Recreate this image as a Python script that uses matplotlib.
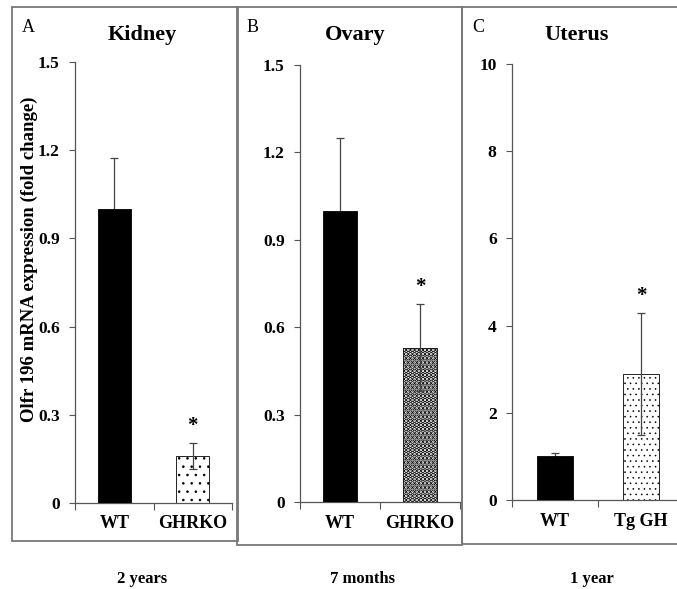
import matplotlib as mpl
import matplotlib.pyplot as plt
from matplotlib.patches import Rectangle

plt.rcParams['font.family'] = ['Liberation Serif', 'DejaVu Serif']

# panel data
tissues = ["Kidney", "Ovary", "Uterus"]
letters = ["A", "B", "C"]
ages = ["2 years", "7 months", "1 year"]
groups = [["WT", "GHRKO"], ["WT", "GHRKO"], ["WT", "Tg GH"]]
means = [[1.0, 0.16], [1.0, 0.53], [1.0, 2.9]]
errs = [[0.175, 0.045], [0.25, 0.15], [0.08, 1.4]]
ymax = [1.5, 1.5, 10]
yticks = [[0, 0.3, 0.6, 0.9, 1.2, 1.5], [0, 0.3, 0.6, 0.9, 1.2, 1.5], [0, 2, 4, 6, 8, 10]]
yticklabels = [["0", "0.3", "0.6", "0.9", "1.2", "1.5"],
               ["0", "0.3", "0.6", "0.9", "1.2", "1.5"],
               ["0", "2", "4", "6", "8", "10"]]
hatches = ["..", "....", "..."]
hatch_lw = [0.6, 2.4, 0.4]

W, H = 677, 589
fig = plt.figure(figsize=(W / 100, H / 100), dpi=100)

def fx(px):
    return px / W

def fy(py):
    return 1 - py / H

# axes in pixels: left, right, top(ymax), bottom(0)
boxes = [(75, 232, 62, 503), (300, 460, 65, 502), (512, 684, 64, 500)]
frames = [(12, 238, 7, 541), (237, 462, 7, 545), (462, 690, 7, 544)]
title_x = [142, 355, 577]
letter_x = [28, 253, 478]
age_x = [142, 362, 592]

edge = "#555555"
for i in range(3):
    l, r, t, b = boxes[i]
    ax = fig.add_axes([fx(l), fy(b), fx(r) - fx(l), fy(t) - fy(b)])
    x = [0.5, 1.5]
    ax.bar(x[0], means[i][0], width=0.42, color="black", edgecolor="black",
           linewidth=0.6, zorder=3)
    with mpl.rc_context({'hatch.linewidth': hatch_lw[i]}):
        ax.bar(x[1], means[i][1], width=0.42, color="white", edgecolor="black",
               linewidth=0.6, hatch=hatches[i], zorder=1)
    ax.errorbar(x, means[i], yerr=errs[i], fmt="none", ecolor="#444444",
                elinewidth=0.9, capsize=3, capthick=0.9, zorder=2)
    ax.annotate("*", xy=(x[1], means[i][1] + errs[i][1]), xytext=(0, 12),
                textcoords="offset points", ha="center", va="center",
                fontsize=15, fontweight="bold")
    ax.set_xlim(0, 2)
    ax.set_ylim(0, ymax[i])
    ax.set_xticks([0, 1, 2])
    ax.set_xticklabels([])
    ax.set_xticks(x, minor=True)
    ax.set_xticklabels(groups[i], minor=True, fontsize=13, fontweight="bold")
    ax.tick_params(axis="x", which="minor", length=0, pad=9)
    ax.tick_params(axis="x", which="major", length=5, direction="out", color=edge)
    ax.set_yticks(yticks[i])
    ax.set_yticklabels(yticklabels[i], fontsize=12.5, fontweight="bold")
    ax.tick_params(axis="y", length=4, direction="out", color=edge, pad=7)
    for s in ["top", "right"]:
        ax.spines[s].set_visible(False)
    for s in ["left", "bottom"]:
        ax.spines[s].set_color(edge)
        ax.spines[s].set_linewidth(0.9)
    ax.patch.set_alpha(0)

    fl, fr, ft, fb = frames[i]
    fig.add_artist(Rectangle((fx(fl), fy(fb)), fx(fr) - fx(fl), fy(ft) - fy(fb),
                             fill=False, edgecolor="#777777", linewidth=1.3,
                             transform=fig.transFigure))

    fig.text(fx(title_x[i]), fy(35), tissues[i], ha="center", va="center",
             fontsize=16, fontweight="bold")
    fig.text(fx(letter_x[i]), fy(27), letters[i], ha="center", va="center", fontsize=13)
    fig.text(fx(age_x[i]), fy(579), ages[i], ha="center", va="center",
             fontsize=12, fontweight="bold")

fig.text(fx(29), fy(259), "Olfr 196 mRNA expression (fold change)", rotation=90,
         ha="center", va="center", fontsize=13.5, fontweight="bold")

fig.savefig("out.png", dpi=100)
